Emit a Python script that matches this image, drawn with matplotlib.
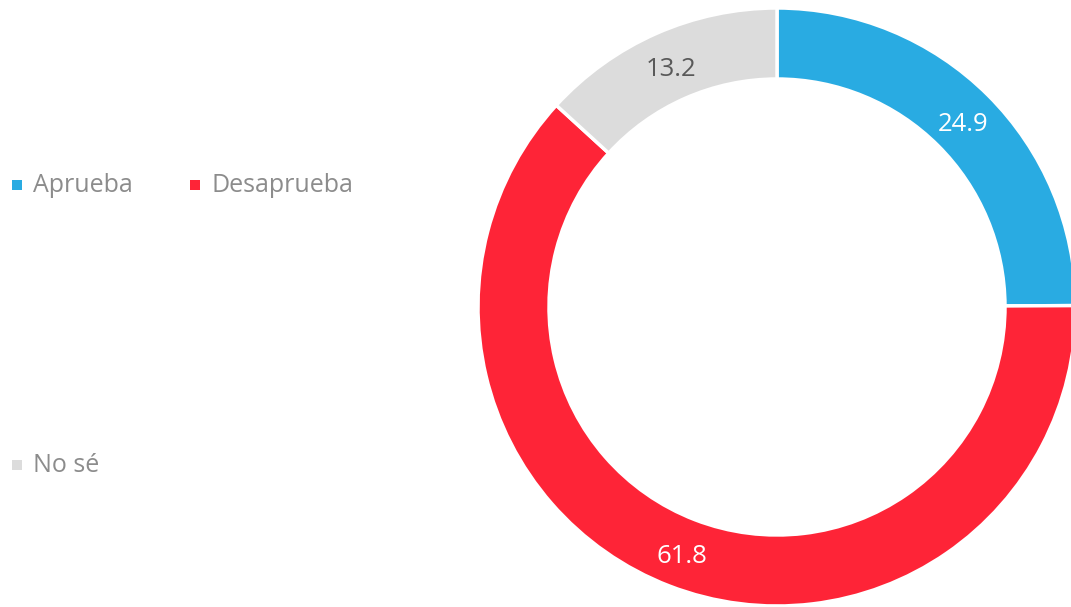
import matplotlib
matplotlib.use("Agg")
import matplotlib.pyplot as plt
from matplotlib.patches import Rectangle
from matplotlib.transforms import offset_copy
import numpy as np

labels = ["Aprueba", "Desaprueba", "No sé"]
values = [24.9, 61.8, 13.2]
colors = ["#29ABE2", "#FE2437", "#DCDCDC"]
label_colors = ["white", "white", "#595959"]

W, H = 1071, 607
plt.rcParams["font.family"] = ["Open Sans", "DejaVu Sans"]
fig = plt.figure(figsize=(W / 100, H / 100), dpi=100)

# donut axes: centre (777, 307) px, outer radius 299 px
cx, cy, r = 777, 307, 299
ax = fig.add_axes([(cx - r) / W, (H - cy - r) / H, 2 * r / W, 2 * r / H])
ring = 1 - 228 / 299
wedges, _ = ax.pie(values, colors=colors, startangle=90, counterclock=False,
                   radius=1, wedgeprops=dict(width=ring, edgecolor="white", linewidth=2.5))
ax.set_xlim(-1, 1)
ax.set_ylim(-1, 1)
ax.set_aspect("equal")
ax.axis("off")

# value labels in the middle of the ring, nudged down slightly
mid_r = 1 - ring / 2
lab_tr = offset_copy(ax.transData, fig=fig, x=0, y=-4, units="dots")
for w, v, tc in zip(wedges, values, label_colors):
    ang = np.deg2rad((w.theta1 + w.theta2) / 2)
    ax.text(mid_r * np.cos(ang), mid_r * np.sin(ang), f"{v:.1f}", transform=lab_tr,
            ha="center", va="center", fontsize=18.5, color=tc)

# legend entries placed in pixel coordinates
entries = [(12, 185), (190, 185), (12, 465)]
for (x, y), lab, c in zip(entries, labels, colors):
    fig.patches.append(Rectangle((x / W, (H - y - 5) / H), 10 / W, 10 / H,
                                 transform=fig.transFigure, facecolor=c, edgecolor="none"))
    fig.text((x + 21) / W, (H - y - 1) / H, lab, ha="left", va="center",
             fontsize=18, color="#8C8C8C")

fig.savefig("out.png", dpi=100)
